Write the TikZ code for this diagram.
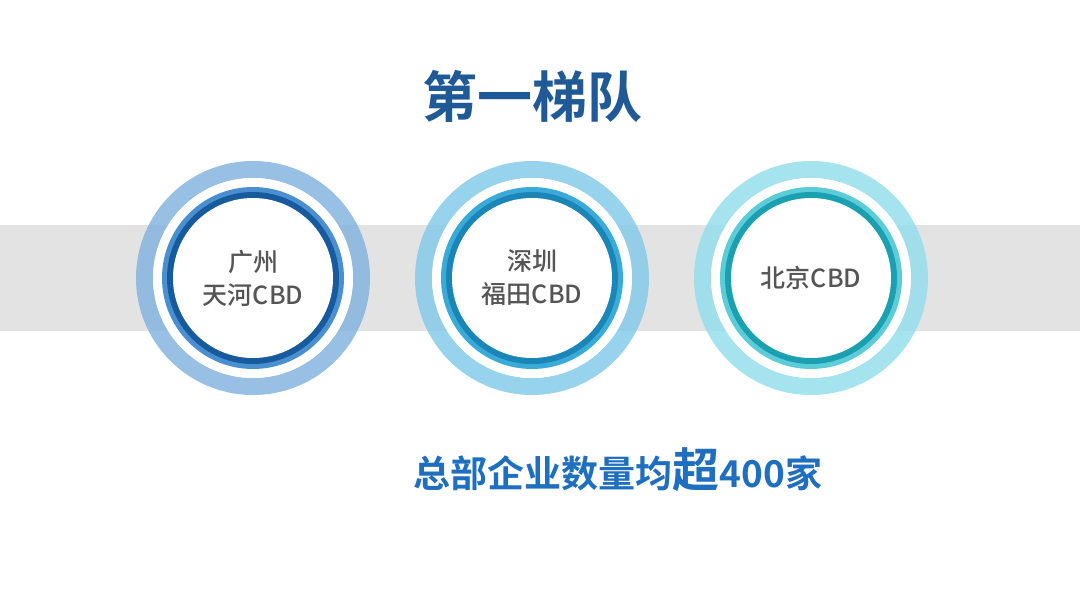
\documentclass[tikz,border=0pt]{standalone}
\usepackage{fontspec}
\newfontfamily\cjk{Noto Sans CJK SC Medium}
\newfontfamily\cjkb{Noto Sans CJK SC Bold}
\definecolor{bandgray}{HTML}{E3E3E3}
\definecolor{txtgray}{HTML}{555555}
\definecolor{titleblue}{HTML}{1F5A96}
\definecolor{subblue}{HTML}{1F6FC0}
\definecolor{aL}{HTML}{7FB0DE}\definecolor{aM}{HTML}{4A90D0}\definecolor{aD}{HTML}{175A9E}
\definecolor{bL}{HTML}{7FC8EA}\definecolor{bM}{HTML}{3AAAD8}\definecolor{bD}{HTML}{1A86B8}
\definecolor{cL}{HTML}{8FDDEC}\definecolor{cM}{HTML}{5CCCD8}\definecolor{cD}{HTML}{1AA0B0}
\tikzset{lbl/.style={font=\cjk\fontsize{25}{33}\selectfont, text=txtgray, align=center}}
\newcommand{\ringset}[4]{%
  \fill[#2, opacity=0.8, even odd rule] (#1) circle (117pt) circle (100pt);
  \fill[white] (#1) circle (100pt);
  \fill[#3] (#1) circle (91pt);
  \fill[#4] (#1) circle (86pt);
  \fill[white] (#1) circle (80pt);
}
\begin{document}
\begin{tikzpicture}[x=1pt,y=-1pt]
\useasboundingbox (0,0) rectangle (1080,608);
\fill[white] (0,0) rectangle (1080,608);
\fill[bandgray] (0,225) rectangle (1080,331);
\coordinate (c1) at (253,278);
\coordinate (c2) at (532,278);
\coordinate (c3) at (811,278);
\ringset{c1}{aL}{aM}{aD}
\ringset{c2}{bL}{bM}{bD}
\ringset{c3}{cL}{cM}{cD}
\node[lbl] (t1) at (c1) {广州\\天河CBD};
\node[lbl] (t2) at (c2) {深圳\\福田CBD};
\node[lbl] (t3) at (c3) {北京CBD};
\node[font=\cjkb\fontsize{55}{60}\selectfont, text=titleblue] (title) at (532,96) {第一梯队};
\node[font=\cjkb\fontsize{37}{44}\selectfont, text=subblue, inner sep=0] (sub) at (618,470) {总部企业数量均{\fontsize{47}{50}\selectfont 超}400家};
\end{tikzpicture}
\end{document}
